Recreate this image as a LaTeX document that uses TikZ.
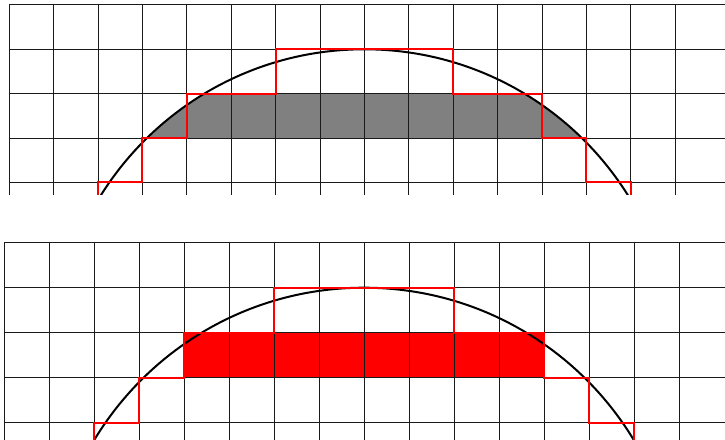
\documentclass[tikz,border=0pt]{standalone}
\usepackage{xcolor}
\usepackage{tikz}
\definecolor{cellink}{HTML}{1A1A1A}
\definecolor{stairred}{HTML}{FF0000}
\definecolor{stripgray}{HTML}{808080}
% grid of unit cells, #1 = right end of the rows
\newcommand{\cellgrid}[1]{%
  \foreach \gx in {-8,...,7} \draw[gridline] (\gx,3) -- (\gx,8);
  \foreach \gy in {4,...,8} \draw[gridline] (-8,\gy) -- (#1,\gy);
}
% outline of the cells the circle passes through
\newcommand{\stairline}{%
  \draw[stair] (-6,3) -- (-6,4) -- (-5,4) -- (-5,5) -- (-4,5) -- (-4,6)
    -- (-2,6) -- (-2,7) -- (2,7) -- (2,6) -- (4,6) -- (4,5) -- (5,5)
    -- (5,4) -- (6,4) -- (6,3);
}

\begin{document}
\begin{tikzpicture}[
  x=1pt,y=1pt,
  gridline/.style={cellink,line width=1pt},
  bound/.style={black,line width=2pt},
  stair/.style={stairred,line width=2pt},
  strip/.style={fill=stripgray}
]
\useasboundingbox[fill=white] (0,0) rectangle (725,439);

% upper panel: exact strip of the disk
\begin{scope}[shift={(364.4pt,78.9pt)},x=44.4pt,y=44.4pt]
  \clip (-8.05,3.72) rectangle (8.2,8.05);
  \begin{scope}
    \clip (-8,5) rectangle (8,6);
    \fill[strip] (0,0) circle (7);
  \end{scope}
  \cellgrid{8.2}
  \draw[bound] (0,0) circle (7);
  \stairline
\end{scope}

% lower panel: whole cells inside the disk
\begin{scope}[shift={(364pt,-163.7pt)},x=45pt,y=45pt]
  \clip (-8.05,3.6) rectangle (8.1,8.05);
  \fill[stairred] (-4,5) rectangle (4,6);
  \cellgrid{8.1}
  \draw[bound] (0,0) circle (7);
  \stairline
\end{scope}
\end{tikzpicture}
\end{document}
